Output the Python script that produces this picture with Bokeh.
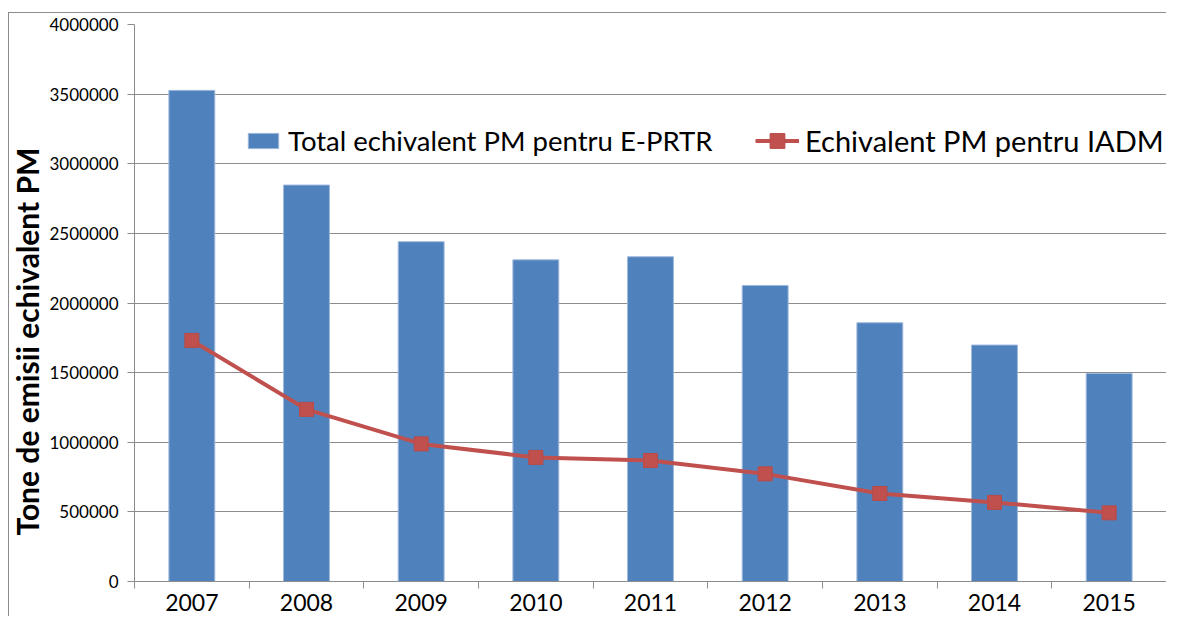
from bokeh.plotting import figure
from bokeh.models import (Range1d, FixedTicker, BasicTickFormatter, Legend, LegendItem, Title)
from bokeh.embed import file_html
from bokeh.resources import INLINE

years = ["2007", "2008", "2009", "2010", "2011", "2012", "2013", "2014", "2015"]
total_eprtr = [3527000, 2847000, 2440000, 2310000, 2332000, 2126000, 1858000, 1698000, 1494000]
iadm = [1731000, 1236000, 988000, 891000, 869000, 773000, 632000, 568000, 493000]
y_ticks = [0, 500000, 1000000, 1500000, 2000000, 2500000, 3000000, 3500000, 4000000]
label_total = "Total echivalent PM pentru E-PRTR"
label_iadm = "Echivalent PM pentru IADM"
y_title = "Tone de emisii echivalent PM"

FONT = "Lato"
BLUE = "#4F81BD"
RED = "#C0504D"
GRAY = "#8c8c8c"

xs = list(range(1, len(years) + 1))

p = figure(width=1166, height=616, output_backend="svg", toolbar_location=None,
           x_range=Range1d(0.5, len(years) + 0.5), y_range=Range1d(0, 4000000),
           min_border_left=134, min_border_right=0, min_border_top=24, min_border_bottom=35)
p.styles = {
    "background": ("linear-gradient(#8c8c8c, #8c8c8c) 8px 12px / 1px 100% no-repeat, "
                   "linear-gradient(#8c8c8c, #8c8c8c) 8px 12px / 100% 1px no-repeat")
}

bars = p.vbar(x=xs, top=total_eprtr, width=0.4, fill_color=BLUE, line_color="#9DB8DA", line_width=1)
line = p.line(x=xs, y=iadm, line_color=RED, line_width=4)
pts = p.scatter(x=xs, y=iadm, marker="square", size=14, fill_color=RED, line_color="#B84A47")

p.outline_line_color = None
p.xgrid.grid_line_color = None
p.ygrid.grid_line_color = GRAY
p.ygrid.grid_line_width = 1
p.ygrid.ticker = FixedTicker(ticks=y_ticks)
p.background_fill_color = "white"
p.border_fill_color = None

yax = p.yaxis[0]
yax.ticker = FixedTicker(ticks=y_ticks)
yax.formatter = BasicTickFormatter(use_scientific=False)
yax.axis_line_color = GRAY
yax.major_tick_line_color = GRAY
yax.major_tick_out = 7
yax.major_tick_in = 0
yax.minor_tick_line_color = None
yax.major_label_text_font = FONT
yax.major_label_text_font_size = "17px"
yax.major_label_text_color = "black"
yax.major_label_standoff = 9

xax = p.xaxis[0]
xax.ticker = FixedTicker(ticks=xs, minor_ticks=[x - 0.5 for x in xs] + [xs[-1] + 0.5])
xax.major_label_overrides = {x: y for x, y in zip(xs, years)}
xax.axis_line_color = GRAY
xax.major_tick_line_color = None
xax.major_tick_out = 0
xax.major_tick_in = 0
xax.minor_tick_line_color = GRAY
xax.minor_tick_out = 7
xax.minor_tick_in = 0
xax.major_label_text_font = FONT
xax.major_label_text_font_size = "23px"
xax.major_label_text_color = "black"
xax.major_label_standoff = 5

t = Title(text=y_title, align="left", offset=46, text_font=FONT, text_font_size="30px",
          text_font_style="bold", text_color="black", standoff=4)
p.add_layout(t, "left")

legend_bar = Legend(items=[LegendItem(label=label_total, renderers=[bars])],
                    location=(110, 424), orientation="horizontal",
                    label_text_font=FONT, label_text_font_size="27.5px", label_text_color="black",
                    glyph_width=38, glyph_height=19, label_standoff=6,
                    padding=0, margin=0, border_line_color=None, background_fill_alpha=0)
legend_line = Legend(items=[LegendItem(label=label_iadm, renderers=[line, pts])],
                     location=(621, 422), orientation="horizontal",
                     label_text_font=FONT, label_text_font_size="29px", label_text_color="black",
                     glyph_width=44, glyph_height=37, label_standoff=6,
                     padding=0, margin=0, border_line_color=None, background_fill_alpha=0)
p.add_layout(legend_bar)
p.add_layout(legend_line)

open("out.html", "w").write(file_html(p, INLINE))
